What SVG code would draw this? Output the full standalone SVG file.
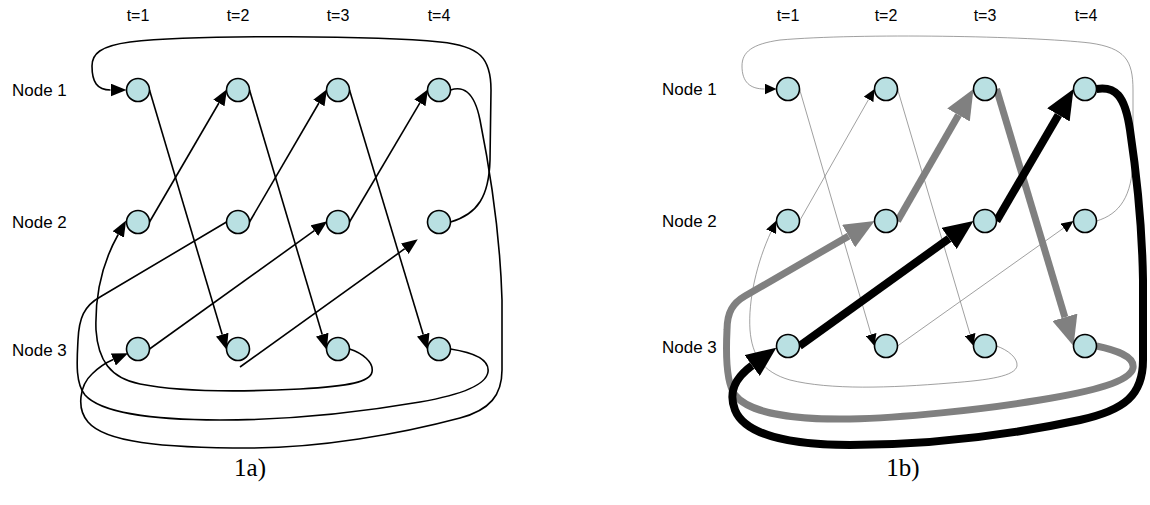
<svg xmlns="http://www.w3.org/2000/svg" width="1150" height="505" viewBox="0 0 1150 505">
<style>
.lbl{font-family:"Liberation Sans",Arial,sans-serif;font-size:17px;fill:#000}
.hdr{font-family:"Liberation Sans",Arial,sans-serif;font-size:16px;fill:#000;text-anchor:middle}
.cap{font-family:"Liberation Serif","Times New Roman",serif;font-size:25px;fill:#000;text-anchor:middle}
.node{fill:#b9e0e2;stroke:#000;stroke-width:1.6}
.ea{fill:none;stroke:#000;stroke-width:1.6;marker-end:url(#ma)}
.ea0{fill:none;stroke:#000;stroke-width:1.6}
.et{fill:none;stroke:#777;stroke-width:0.7;marker-end:url(#mt)}
.eg{fill:none;stroke:#808080;stroke-width:7;marker-end:url(#mg)}
.eb{fill:none;stroke:#000;stroke-width:8;marker-end:url(#mb)}
</style>
<defs>
<marker id="ma" markerUnits="userSpaceOnUse" markerWidth="16" markerHeight="13" refX="0" refY="6.5" orient="auto"><path d="M0,0 L16,6.5 L0,13 z" fill="#000"/></marker>
<marker id="mt" markerUnits="userSpaceOnUse" markerWidth="12" markerHeight="11" refX="0" refY="5.5" orient="auto"><path d="M0,0 L12,5.5 L0,11 z" fill="#000"/></marker>
<marker id="mg" markerUnits="userSpaceOnUse" markerWidth="30" markerHeight="26" refX="0" refY="13" orient="auto"><path d="M0,0 L30,13 L0,26 z" fill="#808080"/></marker>
<marker id="mb" markerUnits="userSpaceOnUse" markerWidth="30" markerHeight="26" refX="0" refY="13" orient="auto"><path d="M0,0 L30,13 L0,26 z" fill="#000"/></marker>
</defs>

<g id="labels-a">
<text class="hdr" x="138" y="21">t=1</text>
<text class="hdr" x="238" y="21">t=2</text>
<text class="hdr" x="338" y="21">t=3</text>
<text class="hdr" x="439" y="21">t=4</text>
<text class="lbl" x="12" y="96">Node 1</text>
<text class="lbl" x="12" y="228">Node 2</text>
<text class="lbl" x="12" y="356">Node 3</text>
<text class="cap" x="250" y="476">1a)</text>
</g>

<g id="connectors-a">
<path class="ea" d="M149.5,90 L222.2,334.6"/>
<path class="ea" d="M249.5,90 L322.2,334.6"/>
<path class="ea" d="M349.5,90 L423.2,334.6"/>
<path class="ea" d="M149.5,222 L218.9,103"/>
<path class="ea" d="M249.5,222 L318.9,103"/>
<path class="ea" d="M349.5,222 L419.9,102.9"/>
<path class="ea" d="M149.5,349 L314.3,230.7"/>
<path class="ea" d="M240,367 L404.8,248.7"/>
<path class="ea" d="M450.5,222 C478,214 489,196 490,160 L491,90 C491,58 480,46 440,42 C380,36 200,34 130,42 C100,46 92,54 92,66 C92,82 97,90 110.5,90"/>
<path class="ea" d="M450.5,90 C462,86 474,90 480,120 C490,170 500,230 502,300 L502,370 C502,395 490,410 460,418 C400,434 320,448 250,448 C160,448 105,442 88,422 C76,408 80,385 92,374 C98,368 105,363 113.3,359.5"/>
<path class="ea" d="M349.5,349 C362,353 374,362 372,372 C370,382 350,386 300,389 C240,392 180,392 140,384 C110,378 98,360 96,330 C95,300 101,265 118.2,234.5"/>
<path class="ea0" d="M450.5,349 C470,352 490,358 488,372 C486,385 460,395 420,402 C350,414 280,420 220,420 C150,420 100,412 85,395 C75,383 77,360 78,340 C79,318 84,306 100,297 L226.5,222"/>
</g>

<g id="nodes-a">
<circle id="a-n1-t1" class="node" cx="138" cy="90" r="11.5"/>
<circle id="a-n1-t2" class="node" cx="238" cy="90" r="11.5"/>
<circle id="a-n1-t3" class="node" cx="338" cy="90" r="11.5"/>
<circle id="a-n1-t4" class="node" cx="439" cy="90" r="11.5"/>
<circle id="a-n2-t1" class="node" cx="138" cy="222" r="11.5"/>
<circle id="a-n2-t2" class="node" cx="238" cy="222" r="11.5"/>
<circle id="a-n2-t3" class="node" cx="338" cy="222" r="11.5"/>
<circle id="a-n2-t4" class="node" cx="439" cy="222" r="11.5"/>
<circle id="a-n3-t1" class="node" cx="138" cy="349" r="11.5"/>
<circle id="a-n3-t2" class="node" cx="238" cy="349" r="11.5"/>
<circle id="a-n3-t3" class="node" cx="338" cy="349" r="11.5"/>
<circle id="a-n3-t4" class="node" cx="439" cy="349" r="11.5"/>
</g>

<g id="labels-b">
<text class="hdr" x="788" y="21">t=1</text>
<text class="hdr" x="886" y="21">t=2</text>
<text class="hdr" x="985" y="21">t=3</text>
<text class="hdr" x="1086" y="21">t=4</text>
<text class="lbl" x="662" y="95">Node 1</text>
<text class="lbl" x="662" y="227">Node 2</text>
<text class="lbl" x="662" y="353">Node 3</text>
<text class="cap" x="903" y="476">1b)</text>
</g>

<g id="connectors-b">
<path class="et" d="M799.5,89 L871.1,334.5"/>
<path class="et" d="M897.5,89 L970.1,334.5"/>
<path class="et" d="M799.5,221 L868.6,99.4"/>
<path class="et" d="M897.5,346 L1063.7,228"/>
<path class="et" d="M1096.5,221 C1120,214 1132,196 1133,160 L1133,90 C1133,60 1125,48 1090,43 C1030,36 860,33 780,40 C752,44 742,52 742,66 C742,82 750,89 764.5,89"/>
<path class="et" d="M996.5,346 C1008,350 1018,358 1017,366 C1015,376 990,380 950,383 C890,388 830,390 790,380 C762,372 752,355 750,330 C748,300 757,262 771.1,231.7"/>
<path class="eg" d="M1096.5,346 C1115,350 1135,356 1133,368 C1130,382 1090,392 1040,400 C980,410 900,418 850,419 C790,420 748,412 735,395 C726,383 726,350 727,330 C727,312 733,303 745,296 L848.6,236.1"/>
<path class="eg" d="M897.5,221 L958.5,115"/>
<path class="eg" d="M996.5,89 L1064.9,317.3"/>
<path class="eb" d="M799.5,346 L949.1,238.5"/>
<path class="eb" d="M996.5,221 L1058.4,114.9"/>
<path class="eb" d="M1096.5,89 C1115,86 1125,95 1130,130 C1136,170 1142,220 1143,280 L1143,360 C1143,395 1125,410 1080,420 C1010,435 930,445 850,445 C790,445 745,435 735,410 C728,392 735,378 752.1,365.5"/>
</g>

<g id="nodes-b">
<circle id="b-n1-t1" class="node" cx="788" cy="89" r="11.5"/>
<circle id="b-n1-t2" class="node" cx="886" cy="89" r="11.5"/>
<circle id="b-n1-t3" class="node" cx="985" cy="89" r="11.5"/>
<circle id="b-n1-t4" class="node" cx="1085" cy="89" r="11.5"/>
<circle id="b-n2-t1" class="node" cx="788" cy="221" r="11.5"/>
<circle id="b-n2-t2" class="node" cx="886" cy="221" r="11.5"/>
<circle id="b-n2-t3" class="node" cx="985" cy="221" r="11.5"/>
<circle id="b-n2-t4" class="node" cx="1085" cy="221" r="11.5"/>
<circle id="b-n3-t1" class="node" cx="788" cy="346" r="11.5"/>
<circle id="b-n3-t2" class="node" cx="886" cy="346" r="11.5"/>
<circle id="b-n3-t3" class="node" cx="985" cy="346" r="11.5"/>
<circle id="b-n3-t4" class="node" cx="1085" cy="346" r="11.5"/>
</g>
</svg>
